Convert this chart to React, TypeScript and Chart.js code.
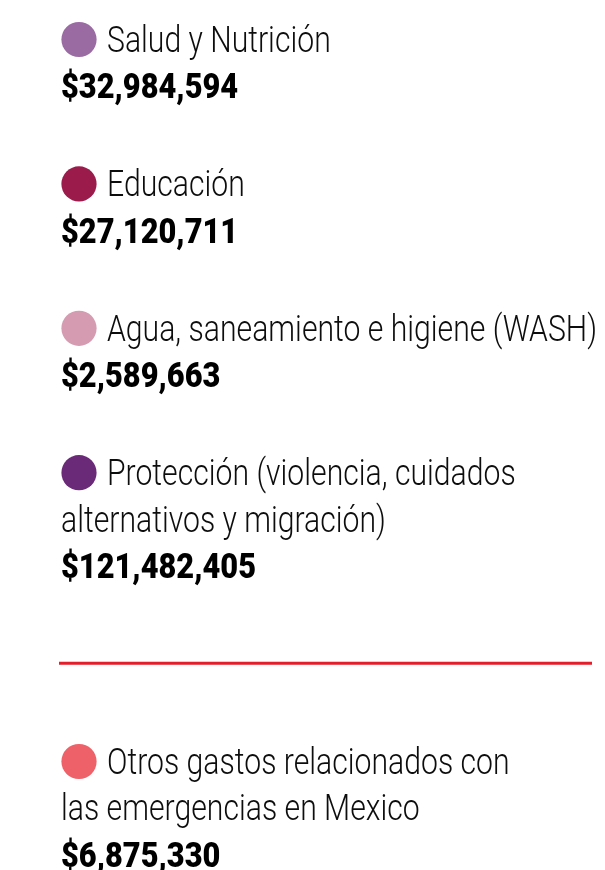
import React, { useEffect, useRef } from "react";
import { Chart, registerables } from "chart.js";

Chart.register(...registerables);

const categories: string[][] = [
  ["Salud y Nutrición"],
  ["Educación"],
  ["Agua, saneamiento e higiene (WASH)"],
  ["Protección (violencia, cuidados", "alternativos y migración)"],
  ["Otros gastos relacionados con", "las emergencias en Mexico"],
];
const amounts: number[] = [32984594, 27120711, 2589663, 121482405, 6875330];
const colors: string[] = ["#9a6aa3", "#9b1b4b", "#d49bb1", "#6b2a78", "#ee6168"];
// index after which the separator rule is drawn
const separatorAfter = 3;

const fmt = (v: number) => "$" + v.toLocaleString("en-US");

const LABEL_FONT = "300 36px 'Roboto', sans-serif";
const VALUE_FONT = "900 35px 'Roboto', sans-serif";

const legendPlugin = {
  id: "textLegend",
  afterDraw(chart: any) {
    const ctx: CanvasRenderingContext2D = chart.ctx;
    const labels: string[][] = chart.data.labels;
    const ds = chart.data.datasets[0];
    const vals: number[] = ds.data;
    const cols: string[] = ds.backgroundColor;

    ctx.save();
    ctx.textBaseline = "alphabetic";
    ctx.textAlign = "left";

    // condensing factors derived from reference widths
    ctx.font = LABEL_FONT;
    const fLabel = 490 / ctx.measureText("Agua, saneamiento e higiene (WASH)").width;
    ctx.font = VALUE_FONT;
    const fValue = 195 / ctx.measureText("$121,482,405").width;

    const drawText = (t: string, x: number, y: number, font: string, f: number, color: string) => {
      ctx.save();
      ctx.font = font;
      ctx.fillStyle = color;
      ctx.translate(x, y);
      ctx.scale(f, 1);
      ctx.fillText(t, 0, 0);
      ctx.restore();
    };

    const leftX = 61;
    const circleX = 79;
    const labelX = 107;
    const lineH = 46.7;
    const gap = 97.7;
    let y = 51.7;

    labels.forEach((lines, i) => {
      ctx.beginPath();
      ctx.fillStyle = cols[i];
      ctx.arc(circleX, y - 12.2, 17.6, 0, Math.PI * 2);
      ctx.fill();
      lines.forEach((ln, j) => {
        drawText(ln, j === 0 ? labelX : leftX, y, LABEL_FONT, fLabel, "#0d0d0d");
        y += lineH;
      });
      drawText(fmt(vals[i]), leftX, y, VALUE_FONT, fValue, "#000000");
      if (i === separatorAfter) {
        const ly = y + 85;
        ctx.beginPath();
        ctx.strokeStyle = "#e31e2a";
        ctx.lineWidth = 3;
        ctx.moveTo(59, ly);
        ctx.lineTo(592, ly);
        ctx.stroke();
        y += gap * 2;
      } else {
        y += gap;
      }
    });
    ctx.restore();
  },
};

export default function App() {
  const ref = useRef<HTMLCanvasElement | null>(null);
  useEffect(() => {
    if (!ref.current) return;
    const chart = new Chart(ref.current, {
      type: "bar",
      data: {
        labels: categories as any,
        datasets: [
          {
            label: "Monto",
            data: amounts,
            backgroundColor: colors,
            hidden: true,
          },
        ],
      },
      options: {
        animation: false,
        responsive: false,
        events: [],
        layout: { padding: 0 },
        scales: { x: { display: false }, y: { display: false } },
        plugins: { legend: { display: false }, tooltip: { enabled: false } },
      },
      plugins: [legendPlugin],
    });
    return () => chart.destroy();
  }, []);
  return (
    <div style={{ position: "fixed", left: 0, top: 0, width: 605, height: 870, background: "#fff" }}>
      <canvas ref={ref} width={605} height={870} style={{ display: "block", width: 605, height: 870 }} />
    </div>
  );
}
